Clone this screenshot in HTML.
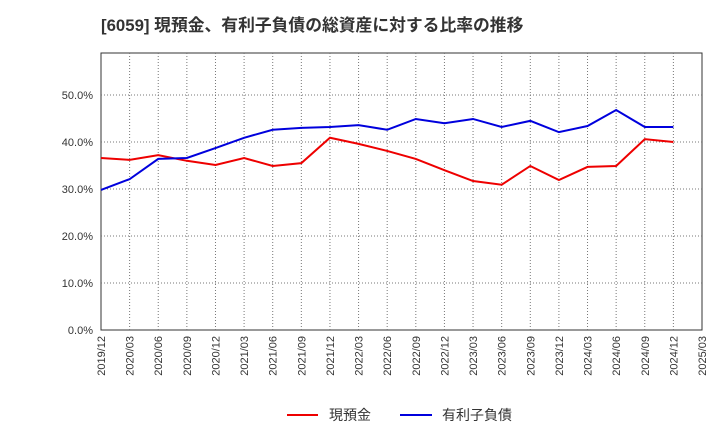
<!DOCTYPE html>
<html><head><meta charset="utf-8"><style>
body{margin:0;background:#fff;font-family:"Liberation Sans","Noto Sans CJK JP",sans-serif;}
svg text{font-family:"Liberation Sans","Noto Sans CJK JP",sans-serif;}
</style></head><body>
<svg id="chart" width="720" height="440" xmlns="http://www.w3.org/2000/svg">
<text x="101" y="31" font-size="16.8" font-weight="bold" fill="#333">[6059]  現預金、有利子負債の総資産に対する比率の推移</text>
<rect x="101" y="53" width="601" height="277" fill="#fff" stroke="#333" stroke-width="1"/>
<g id="grid"></g><g id="axes"></g><g id="series"></g>
<g>
<line x1="287" y1="415" x2="318" y2="415" stroke="#e00" stroke-width="2"/>
<text x="329" y="420" font-size="14" fill="#333">現預金</text>
<line x1="400" y1="415" x2="432" y2="415" stroke="#00d" stroke-width="2"/>
<text x="442" y="420" font-size="14" fill="#333">有利子負債</text>
</g>
</svg>
<script>
const categories=["2019/12","2020/03","2020/06","2020/09","2020/12","2021/03","2021/06","2021/09","2021/12","2022/03","2022/06","2022/09","2022/12","2023/03","2023/06","2023/09","2023/12","2024/03","2024/06","2024/09","2024/12","2025/03"];
const cashValues=[36.6,36.2,37.2,36.0,35.1,36.6,34.9,35.5,40.9,39.6,38.1,36.4,34.0,31.7,30.9,34.9,31.9,34.7,34.9,40.6,40.0];
const debtValues=[29.8,32.1,36.4,36.6,38.7,40.9,42.6,43.0,43.2,43.6,42.6,44.9,44.0,44.9,43.2,44.5,42.1,43.4,46.8,43.2,43.2];
const yTicks=[0,10,20,30,40,50];
const NS="http://www.w3.org/2000/svg";
const X0=101,X1=702,Y0=330,PX=4.7;
const xs=i=>X0+i*(X1-X0)/(categories.length-1);
const ys=v=>Y0-v*PX;
const grid=document.getElementById('grid'),axes=document.getElementById('axes'),ser=document.getElementById('series');
function mk(tag,attrs,parent){const e=document.createElementNS(NS,tag);for(const k in attrs)e.setAttribute(k,attrs[k]);parent.appendChild(e);return e;}
categories.forEach((c,i)=>{
  const x=xs(i);
  if(i>0&&i<categories.length-1){const l=mk('line',{x1:x,y1:53,x2:x,y2:Y0,stroke:'#777','stroke-dasharray':'1,2','stroke-width':1},grid);
  
  }
  const t=mk('text',{x:0,y:0,'font-size':11,fill:'#333','text-anchor':'end',transform:`translate(${x+4},${Y0+6}) rotate(-90)`},axes);
  t.textContent=c;
  
  
});
yTicks.forEach(v=>{
  const y=ys(v);
  if(v>0){const l=mk('line',{x1:X0,y1:y,x2:X1,y2:y,stroke:'#777','stroke-dasharray':'1,2','stroke-width':1},grid);
  
  }
  const t=mk('text',{x:X0-8,y:y+4,'font-size':11,fill:'#333','text-anchor':'end'},axes);
  t.textContent=v.toFixed(1)+'%';
  
  
});
function line(vals,color,name){
  const p=mk('polyline',{points:vals.map((v,i)=>xs(i)+','+ys(v)).join(' '),fill:'none',stroke:color,'stroke-width':2},ser);
  
  
}
line(cashValues,'#e00','cash-line');
line(debtValues,'#00d','debt-line');
</script>
</body></html>
